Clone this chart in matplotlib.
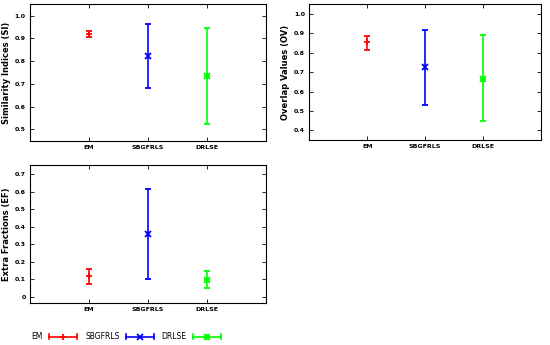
import numpy as np
import matplotlib.pyplot as plt
from matplotlib.lines import Line2D
from matplotlib.legend_handler import HandlerBase

methods = ['EM', 'SBGFRLS', 'DRLSE']
colors = ['#ff0000', '#0000ff', '#00ff00']
# DRLSE uses '+' and 'x' drawn on top of each other (asterisk)
markers = [['+'], ['x'], ['+', 'x']]

# mean, lower, upper
si_mean = [0.919, 0.821, 0.734]
si_low = [0.906, 0.680, 0.523]
si_high = [0.933, 0.962, 0.947]

ov_mean = [0.853, 0.726, 0.667]
ov_low = [0.815, 0.532, 0.449]
ov_high = [0.887, 0.915, 0.889]

ef_mean = [0.118, 0.359, 0.099]
ef_low = [0.076, 0.101, 0.048]
ef_high = [0.162, 0.616, 0.149]


class HorizErrHandler(HandlerBase):
    # sample drawn as a horizontal error bar: line, end caps, marker in the middle
    def __init__(self, mks):
        super().__init__()
        self.mks = mks

    def create_artists(self, legend, orig, xd, yd, width, height, fontsize, trans):
        c = orig.get_color()
        y = height / 2 - yd
        x0, x1 = -xd, -xd + width
        cap = height * 0.45
        arts = [
            Line2D([x0, x1], [y, y], color=c, lw=1.2),
            Line2D([x0, x0], [y - cap, y + cap], color=c, lw=1.2),
            Line2D([x1, x1], [y - cap, y + cap], color=c, lw=1.2),
        ]
        for mk in self.mks:
            arts.append(Line2D([(x0 + x1) / 2], [y], color=c, marker=mk,
                               markersize=5, mew=1.3, linestyle='none'))
        for a in arts:
            a.set_transform(trans)
        return arts


fig = plt.figure(figsize=(5.5, 3.45), dpi=100)
ax1 = fig.add_axes([0.0545, 0.592, 0.4285, 0.396])
ax2 = fig.add_axes([0.5624, 0.594, 0.4213, 0.394])
ax3 = fig.add_axes([0.0545, 0.1226, 0.4285, 0.399])

panels = [
    (ax1, si_mean, si_low, si_high, 'Similarity Indices (SI)', (0.45, 1.05), np.arange(0.5, 1.01, 0.1)),
    (ax2, ov_mean, ov_low, ov_high, 'Overlap Values (OV)', (0.35, 1.05), np.arange(0.4, 1.01, 0.1)),
    (ax3, ef_mean, ef_low, ef_high, 'Extra Fractions (EF)', (-0.033, 0.752), np.arange(0, 0.71, 0.1)),
]

for ax, mean, low, high, label, ylim, yticks in panels:
    for i, m in enumerate(methods):
        yerr = [[mean[i] - low[i]], [high[i] - mean[i]]]
        ax.errorbar([i + 1], [mean[i]], yerr=yerr, color=colors[i], marker=markers[i][0],
                    markersize=5, mew=1.3, elinewidth=1.2, capsize=2.2, capthick=1.2,
                    linestyle='none')
        for mk in markers[i][1:]:
            ax.plot([i + 1], [mean[i]], color=colors[i], marker=mk, markersize=5,
                    mew=1.3, linestyle='none')
    ax.set_xlim(0, 4)
    ax.set_ylim(*ylim)
    ax.set_xticks([1, 2, 3])
    ax.set_xticklabels(methods, fontsize=4.5, fontweight='bold')
    ax.set_yticks(yticks)
    ax.set_yticklabels(['0' if abs(v) < 1e-9 else '%.1f' % v for v in yticks])
    for t in ax.get_yticklabels():
        t.set_fontsize(4.5)
        t.set_fontweight('bold')
    ax.set_ylabel(label, fontsize=6, fontweight='bold', labelpad=3)
    ax.tick_params(direction='in', top=True, right=True, length=3, width=0.6, pad=3)
    for s in ax.spines.values():
        s.set_linewidth(0.8)

handles = [Line2D([], [], color=c) for c in colors]
fig.legend(handles, methods, loc='center left', bbox_to_anchor=(0.045, 0.024), ncol=3,
           frameon=False, markerfirst=False, handlelength=3.7, columnspacing=1.0,
           handletextpad=0.8, prop={'size': 5.5},
           handler_map={h: HorizErrHandler(mk) for h, mk in zip(handles, markers)})

fig.savefig('out.png', dpi=100)
